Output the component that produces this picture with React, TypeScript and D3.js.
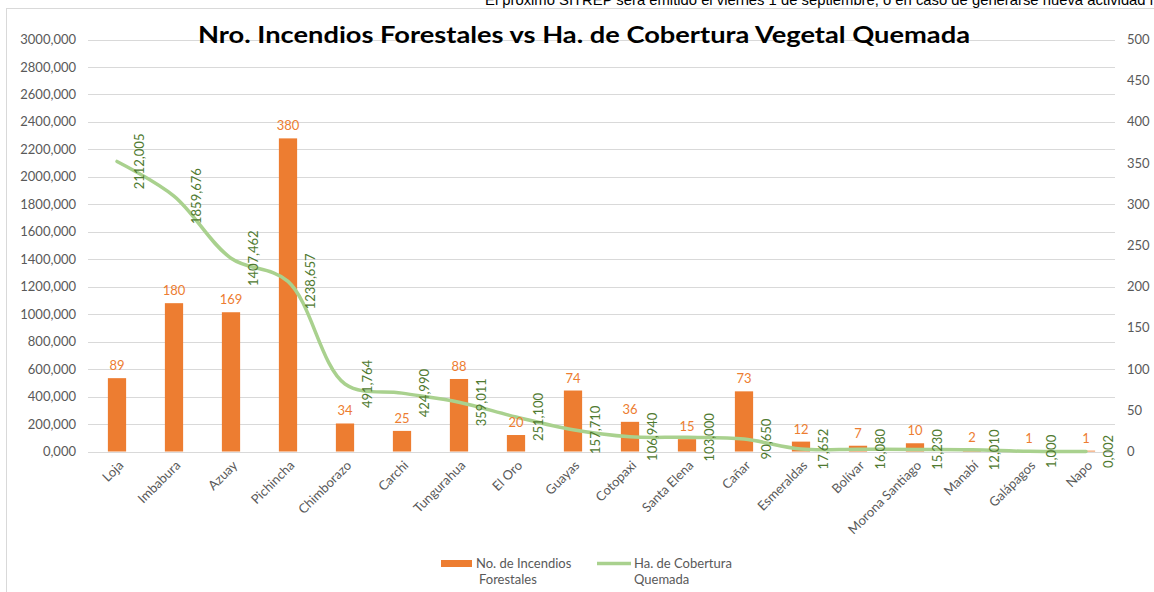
import React, { useRef, useEffect } from 'react';
import * as d3 from 'd3';

const categories = ['Loja', 'Imbabura', 'Azuay', 'Pichincha', 'Chimborazo', 'Carchi', 'Tungurahua', 'El Oro', 'Guayas', 'Cotopaxi', 'Santa Elena', 'Cañar', 'Esmeraldas', 'Bolívar', 'Morona Santiago', 'Manabí', 'Galápagos', 'Napo'];
const incendios = [89, 180, 169, 380, 34, 25, 88, 20, 74, 36, 15, 73, 12, 7, 10, 2, 1, 1];
const hectareas = [2112.005, 1859.676, 1407.462, 1238.657, 491.764, 424.99, 359.011, 251.1, 157.71, 106.94, 103.0, 90.65, 17.652, 16.08, 15.23, 12.01, 1.0, 0.002];
const leftTicks = [0, 200, 400, 600, 800, 1000, 1200, 1400, 1600, 1800, 2000, 2200, 2400, 2600, 2800, 3000];
const rightTicks = [0, 50, 100, 150, 200, 250, 300, 350, 400, 450, 500];

const FONT = 'Lato, "Open Sans", sans-serif';
const fmt3 = (v: number) => d3.format('.3f')(v).replace('.', ',');

export default function App() {
  const svgRef = useRef<SVGSVGElement | null>(null);

  useEffect(() => {
    if (!svgRef.current) return;
    const width = 1154, height = 592;
    const svg = d3.select(svgRef.current);
    svg.selectAll('*').remove();
    svg.attr('width', width).attr('height', height).attr('viewBox', `0 0 ${width} ${height}`);

    // note above the chart (cut by the top of the page, as in the source)
    svg.append('text').attr('x', 485).attr('y', 5).attr('font-family', '"Liberation Sans Narrow", "Liberation Sans", Arial, sans-serif')
      .attr('font-size', 15).attr('fill', '#000').attr('textLength', 668).attr('lengthAdjust', 'spacingAndGlyphs')
      .text('El próximo SITREP será emitido el viernes 1 de septiembre, o en caso de generarse nueva actividad i');

    // chart frame
    svg.append('rect').attr('x', 6.5).attr('y', 8.5).attr('width', 1160).attr('height', 600)
      .attr('fill', '#fff').attr('stroke', '#d9d9d9').attr('stroke-width', 1);

    const x = d3.scaleBand<string>().domain(categories).range([88.5, 1114.5]).paddingInner(0.68).paddingOuter(0.34);
    const cx = (c: string) => (x(c) as number) + x.bandwidth() / 2;
    const yL = d3.scaleLinear().domain([0, 3000]).range([451.5, 39.5]);
    const yR = d3.scaleLinear().domain([0, 500]).range([451.5, 39.5]);

    // gridlines + left axis
    leftTicks.forEach((t) => {
      svg.append('line').attr('x1', 88).attr('x2', 1115).attr('y1', Math.round(yL(t)) + 0.5).attr('y2', Math.round(yL(t)) + 0.5)
        .attr('stroke', '#d9d9d9').attr('stroke-width', 1);
      svg.append('text').attr('x', 76).attr('y', yL(t)).attr('dy', '0.35em').attr('text-anchor', 'end')
        .attr('font-family', FONT).attr('font-size', 13).attr('fill', '#595959').text(fmt3(t));
    });
    // right axis
    rightTicks.forEach((t) => {
      svg.append('text').attr('x', 1127).attr('y', yR(t)).attr('dy', '0.35em').attr('text-anchor', 'start')
        .attr('font-family', FONT).attr('font-size', 13).attr('fill', '#595959').text(String(t));
    });

    // title
    svg.append('text').attr('x', 584).attr('y', 43).attr('text-anchor', 'middle').attr('font-family', FONT)
      .attr('font-weight', 'bold').attr('font-size', 22).attr('fill', '#000').attr('textLength', 772).attr('lengthAdjust', 'spacingAndGlyphs')
      .text('Nro. Incendios Forestales vs Ha. de Cobertura Vegetal Quemada');

    // bars (right axis)
    categories.forEach((c, i) => {
      const v = incendios[i];
      svg.append('rect').attr('x', x(c) as number).attr('y', yR(v)).attr('width', x.bandwidth())
        .attr('height', yR(0) - yR(v)).attr('fill', '#ED7D31');
    });

    // line (left axis)
    const pts: [number, number][] = categories.map((c, i) => [cx(c), yL(hectareas[i])]);
    const line = d3.line<[number, number]>().x((d) => d[0]).y((d) => d[1]).curve(d3.curveCatmullRom.alpha(0.5));
    svg.append('path').attr('d', line(pts)).attr('fill', 'none').attr('stroke', '#A9D18E')
      .attr('stroke-width', 3.5).attr('stroke-linecap', 'round').attr('stroke-linejoin', 'round');

    // bar labels
    categories.forEach((c, i) => {
      svg.append('text').attr('x', cx(c)).attr('y', yR(incendios[i]) - 8).attr('text-anchor', 'middle')
        .attr('font-family', FONT).attr('font-size', 13).attr('fill', '#ED7D31').text(String(incendios[i]));
    });

    // line labels (rotated)
    pts.forEach(([px, py], i) => {
      svg.append('text').attr('transform', `translate(${px + 22},${py}) rotate(-90)`).attr('text-anchor', 'middle')
        .attr('dy', '0.35em').attr('font-family', FONT).attr('font-size', 13).attr('fill', '#4f7a30').text(fmt3(hectareas[i]));
    });

    // category labels
    categories.forEach((c) => {
      svg.append('text').attr('transform', `translate(${cx(c) + 4},${463}) rotate(-45)`).attr('text-anchor', 'end')
        .attr('dy', '0.35em').attr('font-family', FONT).attr('font-size', 13).attr('fill', '#595959').text(c);
    });

    // legend
    const lg = svg.append('g').attr('font-family', FONT).attr('font-size', 13).attr('fill', '#595959');
    lg.append('rect').attr('x', 441).attr('y', 560).attr('width', 31).attr('height', 7).attr('fill', '#ED7D31');
    lg.append('text').attr('x', 476).attr('y', 568).text('No. de Incendios');
    lg.append('text').attr('x', 479).attr('y', 584).text('Forestales');
    lg.append('line').attr('x1', 597).attr('x2', 631).attr('y1', 563.5).attr('y2', 563.5).attr('stroke', '#A9D18E').attr('stroke-width', 3.5);
    lg.append('text').attr('x', 634).attr('y', 568).text('Ha. de Cobertura');
    lg.append('text').attr('x', 634).attr('y', 584).text('Quemada');
  }, []);

  return (
    <svg ref={svgRef} style={{ position: 'absolute', left: 0, top: 0, display: 'block' }} />
  );
}
